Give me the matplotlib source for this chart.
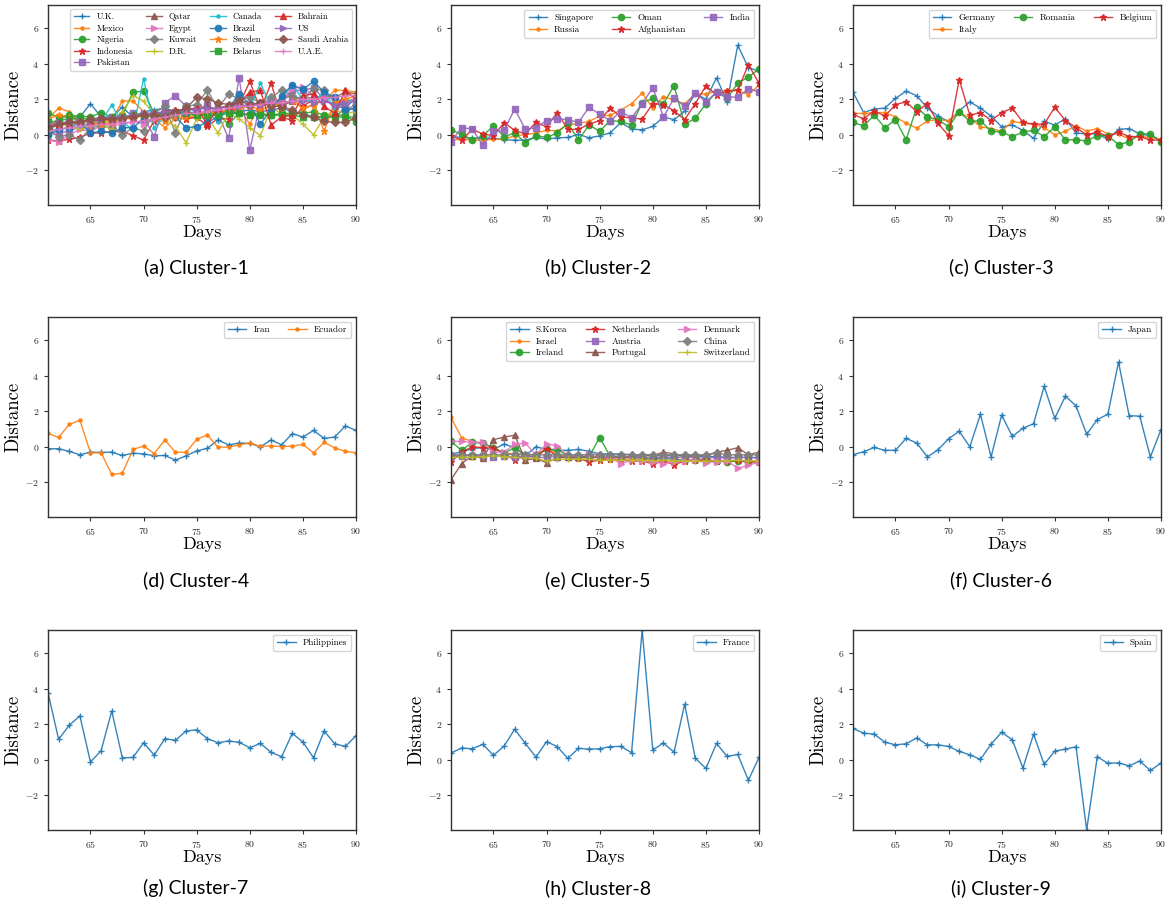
import numpy as np
import matplotlib
matplotlib.use("Agg")
import matplotlib.pyplot as plt

plt.rcParams['font.family'] = 'serif'
plt.rcParams['font.serif'] = ['cmr10', 'DejaVu Serif']
plt.rcParams['mathtext.fontset'] = 'cm'
plt.rcParams['axes.formatter.use_mathtext'] = True
plt.rcParams['axes.unicode_minus'] = True

days = list(range(61, 91))

# ---------------- Cluster-1 ----------------
c1_names = ["U.K.", "Mexico", "Nigeria", "Indonesia", "Pakistan", "Qatar", "Egypt", "Kuwait",
            "D.R.", "Canada", "Brazil", "Sweden", "Belarus", "Bahrain", "US", "Saudi Arabia", "U.A.E."]
uk = [0.0, 1.0, 1.0, 1.0, 1.75, 1.0, 1.0, 1.55, 1.0, 1.3, 1.4, 1.5, 1.3, 1.2, 1.3, 1.2, 1.4, 1.2, 1.3, 1.4,
      1.3, 1.4, 1.5, 1.3, 1.2, 1.0, 1.0, 1.0, 1.5, 2.1]
mexico = [0.9, 1.5, 1.3, 0.6, 0.6, 0.7, 0.8, 1.9, 1.9, 1.3, 0.9, 0.4, 0.9, 0.9, 1.0, 1.2, 1.3, 1.4, 1.5, 0.6,
          1.9, 1.8, 2.0, 2.2, 1.4, 1.7, 1.9, 2.5, 2.5, 2.4]
nigeria = [1.2, 1.0, 1.1, 1.05, 1.0, 1.25, 1.0, 1.1, 2.4, 2.45, 1.2, 1.2, 1.3, 1.3, 1.2, 1.15, 1.2, 0.6, 1.2, 1.15,
           1.2, 1.1, 1.2, 1.2, 1.2, 1.3, 1.1, 1.1, 1.1, 0.7]
indonesia = [-0.3, -0.35, -0.25, -0.15, 0.1, 0.1, 0.2, 0.2, -0.05, -0.3, 0.8, 0.9, 1.4, 0.9, 1.0, 0.5, 0.9, 0.9, 1.7, 3.0,
             1.4, 2.9, 1.0, 0.8, 1.6, 2.0, 2.1, 1.5, 1.9, 2.0]
pakistan = [0.1, 0.1, 0.2, 0.45, 0.55, 0.6, 0.6, 0.8, 1.2, 1.0, -0.1, 1.8, 2.2, 1.6, 1.3, 1.7, 1.2, -0.2, 3.2, -0.85,
            1.8, 1.9, 1.8, 2.5, 2.5, 2.65, 2.0, 1.6, 1.5, 1.4]
qatar = [0.4, 0.5, 0.7, 0.8, 0.7, 0.9, 0.8, 1.0, 1.0, 1.1, 1.0, 1.2, 1.3, 1.4, 1.5, 1.6, 1.4, 1.7, 1.8, 1.9,
         1.6, 1.8, 1.6, 1.9, 2.2, 2.0, 2.2, 2.1, 2.4, 2.3]
egypt = [-0.3, -0.4, 0.0, 0.3, 0.2, 0.5, 0.6, 0.5, 0.8, 0.6, 0.9, 1.1, 1.2, 1.1, 1.3, 1.3, 1.5, 1.6, 1.5, 1.8,
         1.7, 1.9, 1.9, 2.6, 2.7, 2.2, 2.0, 2.1, 1.8, 2.0]
kuwait = [0.2, -0.1, 0.0, -0.3, 0.4, 0.5, 0.4, 0.0, 0.4, 0.2, 1.2, 1.6, 0.1, 1.6, 1.7, 2.5, 1.5, 2.3, 2.0, 2.1,
          1.8, 2.1, 2.5, 2.2, 2.0, 2.6, 2.5, 1.8, 1.4, 1.7]
dr = [0.8, 0.6, 0.5, 0.3, 0.5, 0.6, 0.3, 1.3, 2.2, 1.9, 1.1, 0.8, 0.5, -0.45, 0.9, 1.0, 0.1, 1.2, 0.9, 0.4,
      -0.05, 1.5, 1.2, 1.1, 0.6, 0.0, 1.0, 1.4, 1.2, 1.3]
canada = [0.3, 0.3, 0.4, 0.5, 0.6, 0.8, 1.65, 0.7, 0.3, 3.15, 0.4, 1.0, 1.1, 1.2, 1.1, 1.3, 0.7, 1.6, 1.7, 1.5,
          2.9, 1.6, 2.1, 2.8, 2.0, 1.9, 2.4, 1.5, 2.0, 1.8]
brazil = [0.0, 0.3, 0.4, 0.7, 0.1, 0.2, 0.1, 0.4, 0.4, 0.9, 1.1, 1.0, 1.0, 0.4, 0.45, 0.7, 1.0, 1.5, 2.3, 1.7,
          0.6, 1.4, 2.2, 2.8, 2.55, 3.0, 2.4, 2.1, 1.4, 1.5]
sweden = [0.9, 1.1, 1.0, 0.8, 0.7, 0.6, 0.7, 0.9, 0.9, 1.1, 1.0, 0.8, 1.0, 1.0, 1.1, 1.3, 1.2, 1.4, 1.5, 1.6,
          1.4, 1.6, 1.8, 1.9, 1.5, 1.7, 0.2, 1.8, 2.0, 2.2]
belarus = [0.7, 0.8, 0.9, 0.9, 0.9, 0.8, 1.0, 1.0, 1.1, 1.1, 1.1, 1.2, 1.2, 1.2, 1.1, 1.1, 1.1, 1.2, 1.2, 1.1,
           1.1, 1.1, 1.1, 1.1, 1.0, 1.0, 1.0, 1.0, 1.0, 1.0]
bahrain = [0.5, 0.6, 0.6, 0.7, 0.8, 0.8, 0.9, 1.0, 1.1, 1.2, 1.2, 1.3, 1.4, 1.4, 1.5, 0.6, 1.5, 1.6, 1.8, 2.4,
           2.5, 0.55, 1.0, 1.1, 2.2, 2.3, 1.6, 1.2, 2.5, 2.0]
us = [0.6, 0.7, 0.7, 0.8, 0.8, 0.9, 1.0, 1.0, 1.1, 1.2, 1.2, 1.3, 1.3, 1.4, 1.4, 1.5, 1.5, 1.6, 1.6, 1.7,
      1.7, 1.8, 1.8, 1.9, 1.9, 1.8, 1.9, 1.7, 1.8, 1.9]
saudi = [0.4, 0.6, 0.7, 0.7, 0.9, 0.95, 0.9, 0.9, 1.0, 1.1, 1.1, 1.0, 1.3, 1.5, 2.1, 2.0, 1.8, 1.7, 1.9, 1.7,
         1.8, 1.6, 1.6, 1.4, 1.1, 1.0, 0.75, 0.7, 0.7, 0.95]
uae = [0.2, 0.3, 0.4, 0.5, 0.5, 0.6, 0.6, 0.7, 0.7, 0.8, 0.9, 1.0, 1.1, 1.2, 1.2, 1.3, 1.4, 1.5, 1.6, 1.6,
       1.7, 1.8, 1.8, 1.9, 2.0, 2.0, 2.1, 2.1, 2.2, 2.2]
c1_values = [uk, mexico, nigeria, indonesia, pakistan, qatar, egypt, kuwait, dr, canada, brazil, sweden,
             belarus, bahrain, us, saudi, uae]

# ---------------- Cluster-2 ----------------
c2_names = ["Singapore", "Russia", "Oman", "Afghanistan", "India"]
singapore = [-0.1, -0.15, -0.19, -0.2, -0.19, -0.28, -0.3, -0.3, -0.15, -0.25, -0.17, -0.15, 0.02, -0.17, -0.06,
             0.11, 0.7, 0.32, 0.28, 0.47, 1.0, 0.85, 1.32, 2.32, 2.0, 3.2, 1.87, 5.04, 3.77, 3.58]
russia = [-0.3, -0.25, -0.3, -0.3, -0.25, -0.25, -0.05, 0.0, 0.1, 0.25, 0.22, 0.55, 0.65, 0.75, 1.05,
          1.1, 1.4, 1.75, 2.35, 1.5, 2.15, 1.95, 1.75, 2.3, 2.3, 2.45, 2.5, 2.5, 2.25, 2.8]
oman = [0.25, 0.05, -0.3, -0.05, 0.5, -0.1, 0.1, -0.45, -0.05, -0.15, 0.1, 0.65, -0.3, 0.55, 0.2,
        0.8, 0.75, 0.55, 1.8, 2.05, 1.75, 2.75, 0.6, 0.92, 1.75, 2.4, 2.05, 2.9, 3.25, 3.7]
afghanistan = [-0.05, -0.3, 0.3, 0.05, -0.05, 0.68, 0.25, 0.05, 0.7, 0.45, 1.25, 0.3, 0.3, 0.6, 0.8,
               1.5, 1.0, 0.95, 0.88, 1.75, 1.7, 1.35, 0.85, 1.75, 2.75, 2.25, 2.45, 2.5, 3.95, 2.9]
india = [-0.4, 0.4, 0.33, -0.6, 0.2, 0.25, 1.45, 0.3, 0.4, 0.8, 0.9, 0.85, 0.7, 1.55, 1.15,
         0.8, 1.3, 0.95, 1.75, 2.65, 1.0, 2.05, 1.6, 2.35, 1.85, 2.4, 2.15, 2.1, 2.6, 2.4]
c2_values = [singapore, russia, oman, afghanistan, india]

# ---------------- Cluster-3 ----------------
c3_names = ["Germany", "Italy", "Romania", "Belgium"]
germany = [2.4, 1.25, 1.45, 1.5, 2.05, 2.45, 2.2, 1.5, 1.05, 0.75, 1.35, 1.85, 1.5, 1.05, 0.45,
           0.55, 0.25, -0.2, 0.75, 0.55, 0.9, 0.1, 0.05, 0.05, -0.25, 0.3, 0.35, 0.05, -0.05, -0.3]
italy = [1.2, 1.2, 1.25, 1.25, 1.0, 0.65, 0.38, 0.78, 0.85, 0.8, 1.25, 0.95, 0.45, 0.35, 0.2,
         0.75, 0.65, 0.6, 0.4, 0.0, 0.2, 0.5, 0.2, 0.35, 0.05, 0.05, -0.25, -0.1, -0.15, -0.25]
romania = [0.7, 0.5, 1.1, 0.4, 0.85, -0.28, 1.55, 1.0, 0.85, 0.45, 1.3, 0.75, 0.8, 0.2, 0.15,
           -0.1, 0.15, 0.25, -0.1, 0.45, -0.28, -0.28, -0.35, -0.05, -0.05, -0.55, -0.4, 0.05, 0.05, -0.4]
belgium = [1.15, 0.9, 1.35, 1.05, 1.7, 1.85, 1.3, 1.75, 0.65, -0.05, 3.1, 1.1, 1.25, 0.8, 1.25,
           1.5, 0.7, 0.6, 0.6, 1.55, 0.8, 0.4, 0.0, 0.15, -0.1, 0.15, -0.1, -0.1, -0.3, -0.3]
c3_values = [germany, italy, romania, belgium]

# ---------------- Cluster-4 ----------------
c4_names = ["Iran", "Ecuador"]
iran = [-0.11, -0.11, -0.26, -0.45, -0.3, -0.32, -0.3, -0.49, -0.36, -0.4, -0.51, -0.49, -0.75, -0.51, -0.23,
        -0.09, 0.38, 0.11, 0.21, 0.19, 0.0, 0.38, 0.11, 0.74, 0.55, 0.92, 0.47, 0.55, 1.17, 0.92]
ecuador = [0.75, 0.53, 1.26, 1.49, -0.34, -0.34, -1.55, -1.49, -0.15, 0.04, -0.38, 0.38, -0.3, -0.32, 0.42,
           0.66, -0.02, -0.02, 0.11, 0.21, 0.02, 0.06, 0.0, 0.04, 0.13, -0.34, 0.25, -0.06, -0.26, -0.34]
c4_values = [iran, ecuador]

# ---------------- Cluster-5 ----------------
c5_names = ["S.Korea", "Israel", "Ireland", "Netherlands", "Austria", "Portugal", "Denmark", "China", "Switzerland"]
skorea = [-0.4, -0.3, -0.1, -0.05, -0.15, 0.15, -0.05, -0.5, 0.0, -0.15, -0.2, -0.2, -0.15, -0.25, -0.4,
          -0.4, -0.4, -0.45, -0.45, -0.5, -0.5, -0.5, -0.5, -0.5, -0.55, -0.55, -0.6, -0.6, -0.6, -0.6]
israel = [1.65, 0.5, 0.3, 0.2, -0.1, -0.35, -0.4, -0.4, -0.45, -0.1, -0.4, -0.55, -0.6, -0.5, -0.6,
          -0.7, -0.7, -0.7, -0.75, -0.75, -0.8, -0.8, -0.8, -0.8, -0.8, -0.8, -0.8, -0.8, -0.8, -0.8]
ireland = [0.3, -0.2, 0.25, 0.2, -0.05, -0.35, -0.05, -0.45, -0.45, -0.15, -0.15, -0.5, -0.55, -0.55, 0.52,
           -0.55, -0.6, -0.6, -0.65, -0.7, -0.65, -0.7, -0.75, -0.75, -0.75, -0.8, -0.85, -0.8, -0.85, -0.85]
netherlands = [-0.85, -0.3, 0.0, -0.05, -0.05, -0.4, -0.75, -0.5, -0.6, -0.1, -0.55, -0.6, -0.65, -0.85, -0.75,
               -0.7, -0.75, -0.8, -0.8, -0.95, -0.8, -1.0, -0.8, -0.75, -0.75, -0.8, -0.8, -0.75, -0.85, -0.85]
austria = [-0.5, -0.5, -0.5, -0.5, -0.55, -0.5, -0.6, -0.5, -0.6, -0.6, -0.55, -0.6, -0.6, -0.6, -0.6,
           -0.6, -0.6, -0.6, -0.6, -0.6, -0.6, -0.6, -0.6, -0.6, -0.65, -0.6, -0.65, -0.6, -0.6, -0.65]
portugal = [-1.85, -0.95, -0.5, -0.65, 0.4, 0.55, 0.65, -0.75, -0.65, -0.9, -0.6, -0.6, -0.6, -0.6, -0.6,
            -0.55, -0.6, -0.55, -0.5, -0.5, -0.3, -0.4, -0.55, -0.5, -0.5, -0.3, -0.2, -0.05, -0.45, -0.3]
denmark = [0.3, 0.3, 0.25, 0.25, -0.3, -0.3, 0.15, 0.2, -0.45, 0.15, 0.05, -0.5, -0.5, -0.4, -0.45,
           -0.6, -0.95, -0.75, -0.8, -0.85, -0.95, -0.85, -0.8, -0.75, -0.9, -0.85, -0.8, -1.2, -1.05, -0.85]
china = [-0.45, -0.45, -0.45, -0.45, -0.45, -0.45, -0.42, -0.45, -0.45, -0.45, -0.45, -0.45, -0.45, -0.45, -0.45,
         -0.45, -0.45, -0.45, -0.45, -0.45, -0.45, -0.45, -0.45, -0.45, -0.45, -0.35, -0.45, -0.45, -0.45, -0.45]
switzerland = [-0.6, -0.6, -0.6, -0.55, -0.5, -0.55, -0.6, -0.65, -0.65, -0.8, -0.7, -0.7, -0.7, -0.7, -0.75,
               -0.75, -0.75, -0.75, -0.75, -0.8, -0.75, -0.8, -0.8, -0.8, -0.8, -0.8, -0.8, -0.75, -0.8, -0.8]
c5_values = [skorea, israel, ireland, netherlands, austria, portugal, denmark, china, switzerland]

# ---------------- Clusters 6-9 ----------------
c6_names = ["Japan"]
japan = [-0.45, -0.28, -0.04, -0.2, -0.2, 0.47, 0.21, -0.57, -0.17, 0.45, 0.87, 0.0, 1.83, -0.57, 1.79,
         0.58, 1.04, 1.3, 3.4, 1.6, 2.85, 2.3, 0.7, 1.53, 1.83, 4.77, 1.75, 1.72, -0.57, 0.96]
c6_values = [japan]

c7_names = ["Philippines"]
philippines = [3.77, 1.15, 1.94, 2.47, -0.13, 0.51, 2.74, 0.11, 0.13, 0.96, 0.26, 1.19, 1.09, 1.62, 1.68,
               1.19, 0.96, 1.06, 0.98, 0.68, 0.92, 0.42, 0.17, 1.49, 1.0, 0.11, 1.62, 0.9, 0.75, 1.36]
c7_values = [philippines]

c8_names = ["France"]
france = [0.38, 0.66, 0.62, 0.87, 0.25, 0.77, 1.72, 0.92, 0.15, 1.02, 0.74, 0.08, 0.64, 0.6, 0.62,
          0.74, 0.75, 0.4, 7.3, 0.55, 0.94, 0.43, 3.13, 0.09, -0.49, 0.92, 0.19, 0.3, -1.15, 0.13]
c8_values = [france]

c9_names = ["Spain"]
spain = [1.76, 1.5, 1.44, 0.99, 0.84, 0.9, 1.23, 0.84, 0.84, 0.75, 0.47, 0.28, 0.02, 0.88, 1.55,
         1.12, -0.47, 1.44, -0.26, 0.49, 0.6, 0.73, -3.95, 0.17, -0.2, -0.17, -0.34, -0.07, -0.6, -0.19]
c9_values = [spain]

captions = ["(a) Cluster-1", "(b) Cluster-2", "(c) Cluster-3", "(d) Cluster-4", "(e) Cluster-5",
            "(f) Cluster-6", "(g) Cluster-7", "(h) Cluster-8", "(i) Cluster-9"]

clusters = [(c1_names, c1_values, 4), (c2_names, c2_values, 3), (c3_names, c3_values, 3),
            (c4_names, c4_values, 2), (c5_names, c5_values, 3), (c6_names, c6_values, 1),
            (c7_names, c7_values, 1), (c8_names, c8_values, 1), (c9_names, c9_values, 1)]

markers = ['+', '.', 'o', '*', 's', '^', '>', 'D']
colors = plt.rcParams['axes.prop_cycle'].by_key()['color']

W, H = 1169, 909
fig = plt.figure(figsize=(W / 100, H / 100), dpi=100)

col_left = [48, 451, 853]
row_top = [5, 317, 630]
ax_w, ax_h = 308, 200
cap_x = [196, 598, 1001]
cap_y = [267, 580, 888]

all_vals = np.concatenate([np.array(v) for _, vals, _ in clusters for v in vals])
ymin, ymax = all_vals.min(), all_vals.max()

for i, (names, vals, ncol) in enumerate(clusters):
    r, c = divmod(i, 3)
    ax = fig.add_axes([col_left[c] / W, 1 - (row_top[r] + ax_h) / H, ax_w / W, ax_h / H])
    for k, (nm, v) in enumerate(zip(names, vals)):
        ax.plot(days, v, marker=markers[k % 8], color=colors[k % 10], lw=1.0, ms=4.5,
                label=nm, alpha=0.9)
    ax.set_xlim(61, 90)
    ax.set_ylim(ymin, ymax)
    ax.set_xticks([65, 70, 75, 80, 85, 90])
    ax.set_yticks([-2, 0, 2, 4, 6])
    ax.tick_params(labelsize=7, length=3, colors='#333333', labelcolor='#222222')
    for s in ax.spines.values():
        s.set_color('#333333')
        s.set_linewidth(1.0)
    ax.set_xlabel("Days", fontsize=13, labelpad=0)
    ax.set_ylabel("Distance", fontsize=13.5, labelpad=2)
    if i == 0:
        ax.legend(loc='upper right', ncol=ncol, fontsize=6.3, handlelength=1.8,
                  columnspacing=1.5, borderpad=0.4, labelspacing=0.35)
    else:
        ax.legend(loc='upper right', ncol=ncol, fontsize=6.6, handlelength=2.0,
                  columnspacing=2.0, borderpad=0.45, labelspacing=0.35)
    fig.text(cap_x[c] / W, 1 - cap_y[r] / H, captions[i], ha='center', va='center',
             fontsize=14, family=['Lato', 'DejaVu Sans'])

fig.savefig("out.png", dpi=100)
